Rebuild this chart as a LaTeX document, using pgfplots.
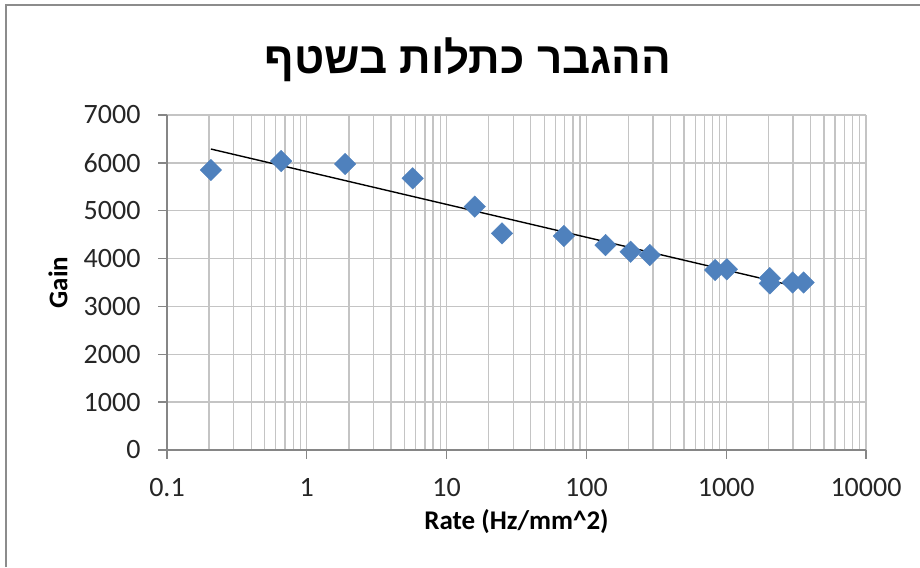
\documentclass[border=0pt]{standalone}
\usepackage{pgfplots}
\pgfplotsset{compat=1.18}
\usepackage{fontspec}
\setmainfont{Carlito}
\newfontfamily\hebfont[Script=Hebrew]{Liberation Sans}
\TeXXeTstate=1
\definecolor{serieblue}{HTML}{4F81BD}
\definecolor{gridgray}{HTML}{C4C4C4}
\definecolor{axisgray}{HTML}{868686}
\definecolor{framegray}{HTML}{8C8C8C}
\begin{document}
\begin{tikzpicture}
\useasboundingbox (0,0) rectangle (920pt,567pt);
\draw[framegray, line width=2.5pt] (6pt,0) -- (6pt,562pt) -- (920pt,562pt);
\node[anchor=center] at (468pt,507pt)
  {\fontsize{44}{50}\selectfont\hebfont\bfseries\beginR ההגבר כתלות בשטף\endR};
\begin{axis}[
    at={(167pt,117pt)}, anchor=south west,
    scale only axis, width=699pt, height=335pt,
    xmode=log,
    xmin=0.1, xmax=10000,
    ymin=0, ymax=7000,
    xtick={0.1,1,10,100,1000,10000},
    xticklabels={0.1,1,10,100,1000,10000},
    ytick={0,1000,2000,3000,4000,5000,6000,7000},
    yticklabels={0,1000,2000,3000,4000,5000,6000,7000},
    axis lines*=left,
    axis line style={axisgray, line width=1.3pt},
    tick style={axisgray, line width=1.3pt},
    tick align=outside,
    major tick length=9pt,
    minor tick length=0pt,
    grid=both,
    major grid style={gridgray, line width=1.3pt},
    minor grid style={gridgray, line width=1.3pt},
    ticklabel style={font=\fontsize{28}{32}\selectfont, text=black!85},
    yticklabel style={xshift=-14pt},
    xticklabel style={yshift=-16pt},
    xlabel={Rate (Hz/mm\textasciicircum 2)},
    ylabel={Gain},
    label style={font=\fontsize{27}{30}\selectfont\bfseries},
    xlabel style={at={(axis description cs:0.5,0)}, anchor=center, yshift=-72pt},
    ylabel style={at={(axis description cs:0,0.5)}, anchor=center, yshift=109pt},
    clip=false,
]
\addplot[only marks, mark=square*, mark size=7.6pt,
         mark options={rotate=45, fill=serieblue, draw=serieblue}]
  coordinates {
  (0.206,5850) (0.656,6038) (1.88,5976) (5.72,5677)
  (15.9,5084) (24.9,4528) (69.0,4471) (137,4283)
  (207,4143) (284,4074) (834,3761) (1010,3776)
  (2050,3590) (2050,3480) (2985,3500) (3580,3500)
  };
% logarithmic trend line (straight on the log axis)
\addplot[black, line width=1.4pt] coordinates {
  (0.206,6289) (3580,3379)
  };
\end{axis}
\end{tikzpicture}
\end{document}
